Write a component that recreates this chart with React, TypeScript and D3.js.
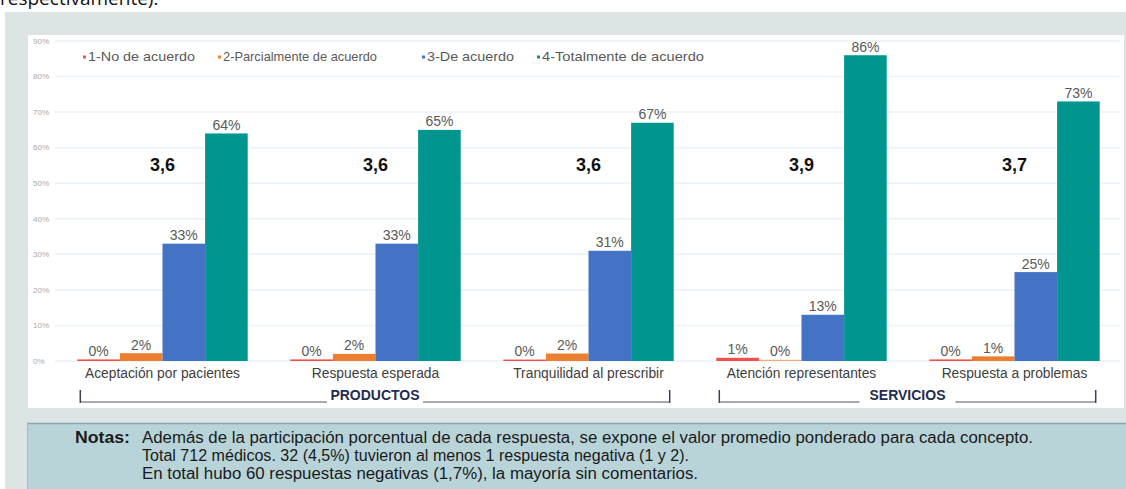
import React from "react";
import * as d3 from "d3";

const categories = [
  "Aceptación por pacientes",
  "Respuesta esperada",
  "Tranquilidad al prescribir",
  "Atención representantes",
  "Respuesta a problemas",
];
const seriesNames = [
  "1-No de acuerdo",
  "2-Parcialmente de acuerdo",
  "3-De acuerdo",
  "4-Totalmente de acuerdo",
];
const noDeAcuerdo = [0.45, 0.45, 0.4, 0.9, 0.45];
const parcialmente = [2.2, 2.0, 2.1, 0.35, 1.3];
const deAcuerdo = [33, 33, 31, 13, 25];
const totalmente = [64, 65, 67, 86, 73];
const promedios = ["3,6", "3,6", "3,6", "3,9", "3,7"];
const yTicks = [0, 10, 20, 30, 40, 50, 60, 70, 80, 90];
const grupos = [
  { label: "PRODUCTOS", from: 0, to: 2 },
  { label: "SERVICIOS", from: 3, to: 4 },
];
const notas = [
  "Además de la participación porcentual de cada respuesta, se expone el valor promedio ponderado para cada concepto.",
  "Total 712 médicos. 32 (4,5%) tuvieron al menos 1 respuesta negativa (1 y 2).",
  "En total hubo 60 respuestas negativas (1,7%), la mayoría sin comentarios.",
];

const colors = ["#f2514a", "#ed7d31", "#4472c4", "#00968f"];
const series = [noDeAcuerdo, parcialmente, deAcuerdo, totalmente];

export default function App() {
  const W = 1126;
  const H = 489;
  const x0 = d3
    .scaleBand<string>()
    .domain(categories)
    .range([56, 1121])
    .paddingInner(0.2)
    .paddingOuter(0.1);
  const x1 = d3
    .scaleBand<number>()
    .domain(d3.range(seriesNames.length))
    .range([0, x0.bandwidth()]);
  const y = d3.scaleLinear().domain([0, 90]).range([361, 41]);

  const sans = "'Liberation Sans', Arial, Helvetica, sans-serif";
  const narrow = "'Liberation Sans Narrow', 'Liberation Sans', Arial, sans-serif";
  const legendX = [83, 218, 422, 537];
  const legendW = [107, 154, 87, 162];
  const noteWidths = [891, 547, 556];

  return (
    <svg
      width={W}
      height={H}
      style={{ position: "absolute", left: 0, top: 0, display: "block" }}
      fontFamily={sans}
    >
      <rect x={0} y={0} width={W} height={H} fill="#ffffff" />
      <text x={0} y={5} fontSize={19} fill="#111" fontFamily="'Open Sans', sans-serif">
        respectivamente).
      </text>
      {/* outer grey panel */}
      <rect x={5} y={12} width={W - 5} height={H - 12} fill="#dde4e4" />
      {/* white chart area */}
      <rect x={28} y={35} width={1096} height={373} fill="#ffffff" />

      {/* gridlines & y labels */}
      {yTicks.map((t) => (
        <g key={t}>
          <line x1={55} x2={1120} y1={y(t)} y2={y(t)} stroke="#eaf2fa" strokeWidth={1.5} />
          <text x={33} y={y(t)} dy="0.35em" fontSize={8} fill="#a8a8a8">
            {t}%
          </text>
        </g>
      ))}

      {/* legend */}
      {seriesNames.map((n, i) => (
        <g key={n}>
          <rect x={legendX[i]} y={55.5} width={3} height={3} fill={colors[i]} />
          <text
            x={legendX[i] + 5}
            y={61}
            fontSize={13.5}
            fill="#595959"
            textLength={legendW[i]}
            lengthAdjust="spacingAndGlyphs"
          >
            {n}
          </text>
        </g>
      ))}

      {/* bars */}
      {categories.map((c, ci) => (
        <g key={c} transform={`translate(${x0(c)},0)`}>
          {series.map((s, si) => {
            const v = s[ci];
            const bx = x1(si)!;
            return (
              <g key={si}>
                <rect
                  x={bx}
                  y={y(v)}
                  width={x1.bandwidth()}
                  height={y(0) - y(v)}
                  fill={colors[si]}
                  opacity={si === 1 && v < 0.5 ? 0.6 : 1}
                />
                <text
                  x={bx + x1.bandwidth() / 2}
                  y={y(v) - 3.5}
                  textAnchor="middle"
                  fontSize={14}
                  fill="#595959"
                >
                  {Math.round(v)}%
                </text>
              </g>
            );
          })}
          <text
            x={x0.bandwidth() / 2}
            y={171}
            textAnchor="middle"
            fontSize={18}
            fontWeight="bold"
            fill="#111"
          >
            {promedios[ci]}
          </text>
          <text
            x={x0.bandwidth() / 2}
            y={378}
            textAnchor="middle"
            fontSize={13.8}
            fill="#404040"
          >
            {c}
          </text>
        </g>
      ))}

      {/* group brackets */}
      {grupos.map((g) => {
        const left = x0(categories[g.from])! + 3;
        const right = x0(categories[g.to])! + x0.bandwidth() - 4;
        const mid = (left + right) / 2;
        const half = 52;
        return (
          <g key={g.label}>
            <line x1={left} x2={left} y1={390} y2={403} stroke="#3a3f58" strokeWidth={1.5} />
            <line x1={right} x2={right} y1={390} y2={403} stroke="#3a3f58" strokeWidth={1.5} />
            <line x1={left} x2={mid - half + 4} y1={402} y2={402} stroke="#4a5468" strokeWidth={1} />
            <line x1={mid + half - 4} x2={right} y1={402} y2={402} stroke="#4a5468" strokeWidth={1} />
            <text x={mid} y={400} textAnchor="middle" fontSize={14} fontWeight="bold" fill="#1f2d4f">
              {g.label}
            </text>
          </g>
        );
      })}

      {/* notes box */}
      <rect x={27} y={423} width={W - 27} height={H - 423} fill="#b8d4d9" />
      <line x1={27} x2={W} y1={423.5} y2={423.5} stroke="#8aa6b2" strokeWidth={1.5} />
      <line x1={27.5} x2={27.5} y1={423} y2={H} stroke="#9fb9c2" strokeWidth={1} />
      <text x={75} y={443} fontSize={16} fontWeight="bold" fill="#1a1a1a" fontFamily={narrow} textLength={55} lengthAdjust="spacingAndGlyphs">
        Notas:
      </text>
      {notas.map((n, i) => (
        <text
          key={i}
          x={142}
          y={443 + i * 18}
          fontSize={16}
          fill="#1a1a1a"
          fontFamily={narrow}
          textLength={noteWidths[i]}
          lengthAdjust="spacingAndGlyphs"
        >
          {n}
        </text>
      ))}
    </svg>
  );
}
